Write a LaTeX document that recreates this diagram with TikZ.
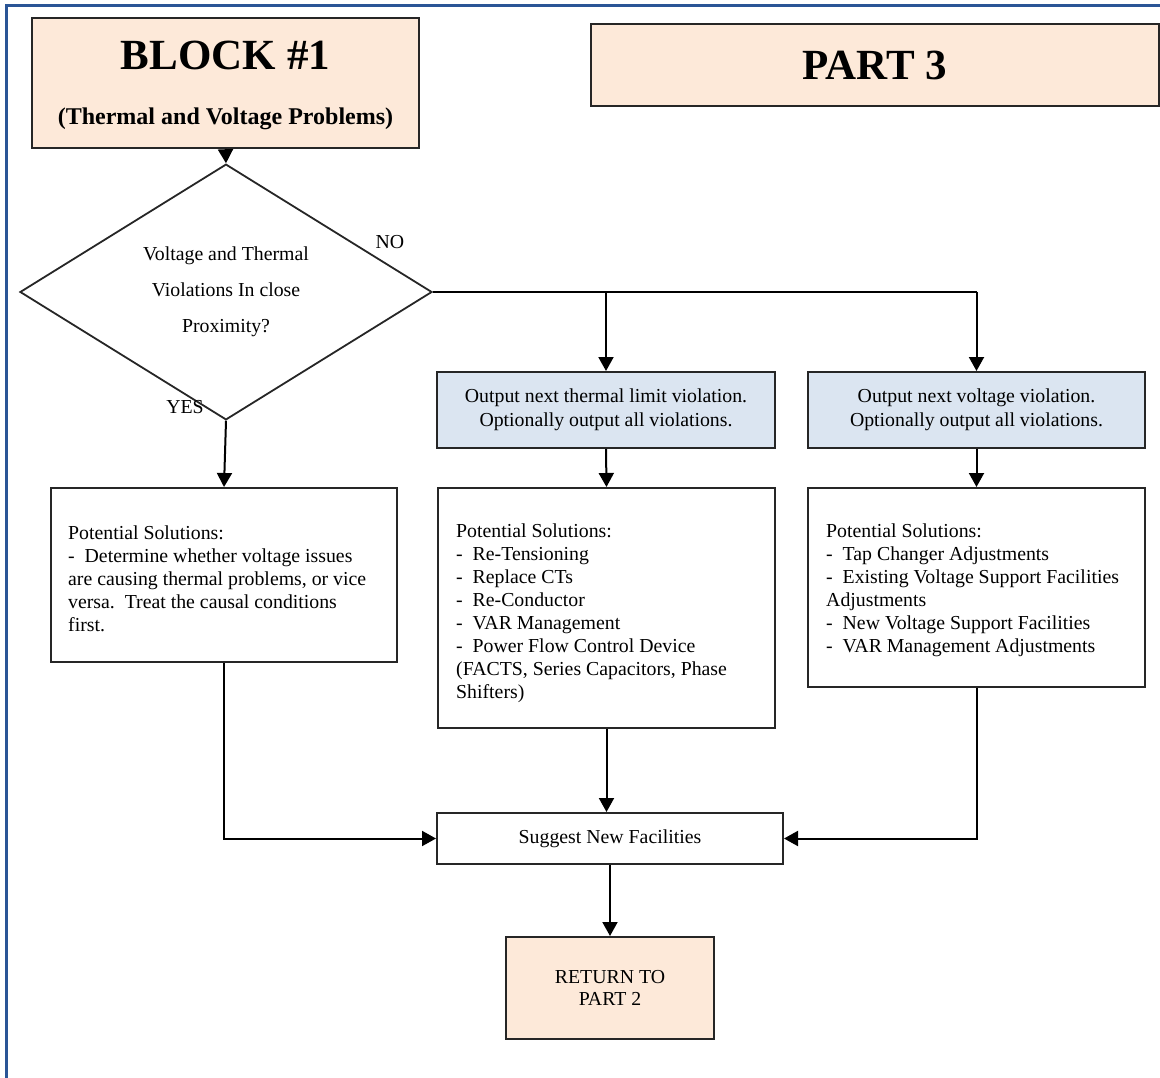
\documentclass[tikz,border=0pt]{standalone}
\usepackage{fontspec}
\setmainfont{Liberation Serif}
\usetikzlibrary{shapes.geometric,arrows.meta}
\definecolor{peach}{HTML}{FDE9D9}
\definecolor{lblue}{HTML}{DBE5F1}
\definecolor{framec}{HTML}{2A5596}
\tikzset{
  box/.style={draw=black!85, line width=2pt, inner sep=0pt, align=center,
    font=\fontsize{19.8}{24}\selectfont},
  soltext/.style={inner sep=0pt, anchor=west, align=left,
    font=\fontsize{19.8}{23}\selectfont},
  lbl/.style={inner sep=0pt, font=\fontsize{19.8}{24}\selectfont},
  conn/.style={line width=2pt, black},
  arr/.style={conn, -{Triangle[length=14pt,width=15pt]}},
}
\begin{document}
\begin{tikzpicture}[x=1pt,y=-1pt]
\useasboundingbox (0,0) rectangle (1160,1078);
\draw[framec, line width=3pt] (6,1080) -- (6,6) -- (1162,6);

% top boxes
\node[box, fill=peach, minimum width=387pt, minimum height=130pt] (block1) at (225.5,83) {};
\node[lbl, anchor=base, font=\fontsize{43}{43}\selectfont\bfseries] (b1t) at (225.5,70) {BLOCK \#1};
\node[lbl, anchor=base, font=\fontsize{24}{24}\selectfont\bfseries] (b1s) at (225.5,125) {(Thermal and Voltage Problems)};
\node[box, fill=peach, minimum width=568pt, minimum height=82pt, font=\fontsize{43}{43}\selectfont\bfseries] (part3) at (875,65) {PART 3};

% decision
\node[diamond, draw=black!85, line width=1.8pt, minimum width=412pt, minimum height=212pt, inner sep=0pt, align=center,
  font=\fontsize{19.8}{36}\selectfont] (dia) at (226,292) {Voltage and Thermal\\Violations In close\\Proximity?};
\node[lbl] (no) at (390,242) {NO};
\node[lbl] (yes) at (185,407) {YES};

% blue boxes
\node[box, fill=lblue, minimum width=338pt, minimum height=76pt] (blue1) at (606,410)
  {Output next thermal limit violation.\\Optionally output all violations.};
\node[box, fill=lblue, minimum width=337pt, minimum height=76pt] (blue2) at (976.5,410)
  {Output next voltage violation.\\Optionally output all violations.};

% solution boxes
\node[box, fill=white, minimum width=346pt, minimum height=174pt] (lbox) at (224,575) {};
\node[soltext] (lboxt) at ([xshift=18pt,yshift=-4pt]lbox.west)
  {Potential Solutions:\\-~~Determine whether voltage issues\\are causing thermal problems, or vice\\versa.~~Treat the causal conditions\\first.};
\node[box, fill=white, minimum width=337pt, minimum height=240pt] (mbox) at (606.5,608) {};
\node[soltext] (mboxt) at ([xshift=19pt,yshift=-5pt]mbox.west)
  {Potential Solutions:\\-~~Re-Tensioning\\-~~Replace CTs\\-~~Re-Conductor\\-~~VAR Management\\-~~Power Flow Control Device\\(FACTS, Series Capacitors, Phase\\Shifters)};
\node[box, fill=white, minimum width=337pt, minimum height=199pt] (rbox) at (976.5,587.5) {};
\node[soltext] (rboxt) at ([xshift=19pt,yshift=-3pt]rbox.west)
  {Potential Solutions:\\-~~Tap Changer Adjustments\\-~~Existing Voltage Support Facilities\\Adjustments\\-~~New Voltage Support Facilities\\-~~VAR Management Adjustments};

% bottom boxes
\node[box, fill=white, minimum width=346pt, minimum height=51pt] (sugg) at (610,838.5) {Suggest New Facilities};
\node[box, fill=peach, minimum width=208pt, minimum height=102pt, font=\fontsize{19.8}{22}\selectfont] (ret) at (610,988) {RETURN TO\\PART 2};

% connectors
\draw[arr] (block1.south) -- (dia.north);
\coordinate (n1) at (blue1.north |- dia.east);
\coordinate (n2) at (blue2.north |- dia.east);
\draw[conn] (dia.east) -- (n2);
\draw[arr] (n1) -- (blue1.north);
\draw[arr] (n2) -- (blue2.north);
\draw[arr] (dia.south) -- (lbox.north);
\draw[arr] (blue1.south) -- (mbox.north);
\draw[arr] (blue2.south) -- (rbox.north);
\draw[arr] (mbox.south) -- (mbox.south |- sugg.north);
\draw[arr] (lbox.south) -- (lbox.south |- sugg.west) -- (sugg.west);
\draw[arr] (rbox.south) -- (rbox.south |- sugg.east) -- (sugg.east);
\draw[arr] (sugg.south) -- (ret.north);
\end{tikzpicture}
\end{document}
